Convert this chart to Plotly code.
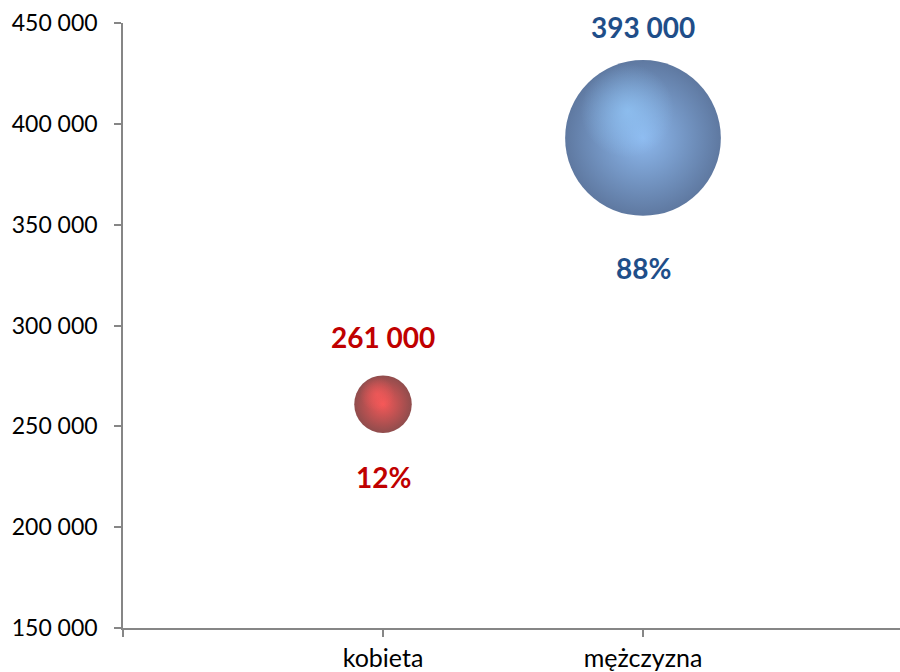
import plotly.graph_objects as go
import math

categories = ["kobieta", "mężczyzna"]
x_pos = [1, 2]
values = [261000, 393000]
shares = [12, 88]
value_labels = ["261 000", "393 000"]
share_labels = ["12%", "88%"]
y_ticks = [150000, 200000, 250000, 300000, 350000, 400000, 450000]

center_colors = ["#f01010", "#5c9ae6"]
edge_colors = ["#600000", "#1a3f78"]
label_colors = ["#c00000", "#1f4e89"]
highlight_colors = ["rgba(255,90,90,0.9)", "rgba(150,205,255,0.9)"]
highlight_edges = ["rgba(255,90,90,0)", "rgba(150,205,255,0)"]

X_RANGE = [0, 777 / 260]
Y_RANGE = [150000, 450000]
PLOT_W, PLOT_H = 777, 605

fig = go.Figure()
for i in range(2):
    d = 16.6 * math.sqrt(shares[i])
    fig.add_trace(go.Scatter(
        x=[x_pos[i]], y=[values[i]], mode="markers",
        marker=dict(size=[d], color=edge_colors[i],
                    gradient=dict(type="radial", color=center_colors[i]),
                    line=dict(width=0)),
        showlegend=False, hoverinfo="skip"))
    # specular highlight, offset up-left relative to the bubble
    r = d / 2
    dx = -0.2 * r * (X_RANGE[1] - X_RANGE[0]) / PLOT_W
    dy = 0.35 * r * (Y_RANGE[1] - Y_RANGE[0]) / PLOT_H
    fig.add_trace(go.Scatter(
        x=[x_pos[i] + dx], y=[values[i] + dy], mode="markers",
        marker=dict(size=[d * 0.6], color=highlight_edges[i],
                    gradient=dict(type="radial", color=highlight_colors[i]),
                    line=dict(width=0)),
        showlegend=False, hoverinfo="skip"))

above = [67, 111]
below = [73, 130]
for i in range(2):
    fig.add_annotation(x=x_pos[i], y=values[i], text="<b>%s</b>" % value_labels[i],
                       showarrow=False, yshift=above[i],
                       font=dict(size=28, color=label_colors[i], family="Lato"))
    fig.add_annotation(x=x_pos[i], y=values[i], text="<b>%s</b>" % share_labels[i],
                       showarrow=False, yshift=-below[i],
                       font=dict(size=28, color=label_colors[i], family="Lato"))

fig.update_layout(
    width=900, height=672,
    margin=dict(l=123, r=0, t=23, b=44),
    plot_bgcolor="white", paper_bgcolor="white",
    separators=", ",
    font=dict(family="Lato", size=23, color="#000000"),
    xaxis=dict(range=X_RANGE, tickmode="array",
               tickvals=[0] + x_pos, ticktext=[""] + categories,
               tickfont=dict(size=25),
               showline=True, linecolor="#868686", linewidth=1.5,
               ticks="outside", ticklen=7, tickcolor="#868686", tickwidth=1.5,
               showgrid=False, zeroline=False, fixedrange=True,
               automargin=False, ticklabelstandoff=0),
    yaxis=dict(range=Y_RANGE, tickmode="array", tickvals=y_ticks,
               tickformat=",d",
               showline=True, linecolor="#868686", linewidth=1.5,
               ticks="outside", ticklen=7, tickcolor="#868686", tickwidth=1.5,
               showgrid=False, zeroline=False, fixedrange=True,
               automargin=False, ticklabelstandoff=12),
)

fig.write_html("out.html", config={"displayModeBar": False},
               post_script="document.body.style.margin='0';document.body.style.overflow='hidden';")
